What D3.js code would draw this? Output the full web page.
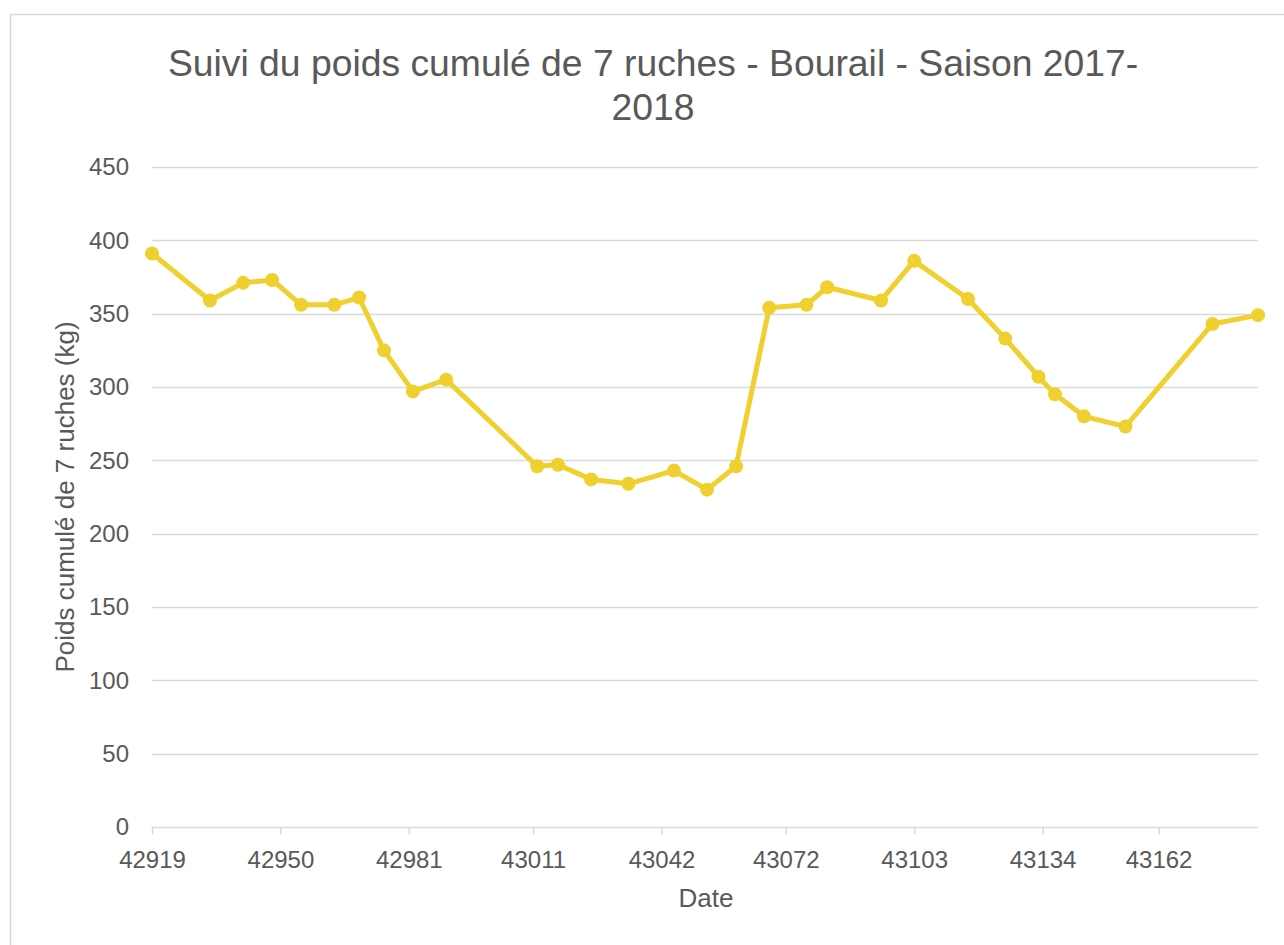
<!DOCTYPE html>
<html>
<head>
<meta charset="utf-8">
<script src="https://cdn.jsdelivr.net/npm/d3@7"></script>
<style>
  html, body { margin: 0; padding: 0; background: #ffffff; }
  svg { display: block; font-family: "Liberation Sans", Arial, Helvetica, sans-serif; }
</style>
</head>
<body>
<svg id="chart" width="1284" height="945"></svg>
<script>
// ---- Data ----
const titleLines = ["Suivi du poids cumulé de 7 ruches - Bourail - Saison 2017-", "2018"];
const xAxisTitle = "Date";
const yAxisTitle = "Poids cumulé de 7 ruches (kg)";
const dates = [42919, 42933, 42941, 42948, 42955, 42963, 42969, 42975, 42982, 42990,
               43012, 43017, 43025, 43034, 43045, 43053, 43060, 43068, 43077, 43082,
               43095, 43103, 43116, 43125, 43133, 43137, 43144, 43154, 43175, 43186];
const weights = [391, 359, 371, 373, 356, 356, 361, 325, 297, 305,
                 246, 247, 237, 234, 243, 230, 246, 354, 356, 368,
                 359, 386, 360, 333, 307, 295, 280, 273, 343, 349];
const xTickValues = [42919, 42950, 42981, 43011, 43042, 43072, 43103, 43134, 43162];
const yTickValues = [0, 50, 100, 150, 200, 250, 300, 350, 400, 450];

// ---- Layout ----
const svg = d3.select("#chart");
const plot = { left: 152, right: 1258, top: 167, bottom: 827 };
const textColor = "#595959";
const gridColor = "#d9d9d9";
const lineColor = "#efd02e";

// outer chart border
svg.append("rect")
  .attr("x", 10.5).attr("y", 14.5)
  .attr("width", 1300).attr("height", 960)
  .attr("fill", "#fff").attr("stroke", "#d9d9d9").attr("stroke-width", 1.5);

const x = d3.scaleLinear().domain([d3.min(dates), d3.max(dates)]).range([plot.left, plot.right]);
const y = d3.scaleLinear().domain([0, 450]).range([plot.bottom, plot.top]);

// gridlines
svg.append("g")
  .selectAll("line")
  .data(yTickValues.filter(v => v !== 0))
  .join("line")
  .attr("x1", plot.left).attr("x2", plot.right)
  .attr("y1", d => Math.round(y(d)) + 0.5).attr("y2", d => Math.round(y(d)) + 0.5)
  .attr("stroke", gridColor).attr("stroke-width", 1.5);

// y axis (labels only)
const yAxis = svg.append("g")
  .attr("transform", `translate(${plot.left},0)`)
  .call(d3.axisLeft(y).tickValues(yTickValues).tickSize(0).tickPadding(23).tickFormat(d3.format("d")));
yAxis.select(".domain").remove();
yAxis.selectAll("text")
  .attr("fill", textColor).attr("font-size", 24)
  .attr("font-family", "'Liberation Sans', Arial, sans-serif");

// x axis
const xAxis = svg.append("g")
  .attr("transform", `translate(0,${plot.bottom + 0.5})`)
  .call(d3.axisBottom(x).tickValues(xTickValues).tickSize(7).tickPadding(16).tickFormat(d3.format("d")));
xAxis.select(".domain").attr("stroke", gridColor).attr("stroke-width", 1.5)
  .attr("d", `M${plot.left},0H${plot.right}`);
xAxis.selectAll(".tick line").attr("stroke", gridColor).attr("stroke-width", 1.5);
xAxis.selectAll("text")
  .attr("fill", textColor).attr("font-size", 24)
  .attr("font-family", "'Liberation Sans', Arial, sans-serif");

// line
const line = d3.line().x((d, i) => x(dates[i])).y(d => y(d));
svg.append("path")
  .datum(weights)
  .attr("d", line)
  .attr("fill", "none")
  .attr("stroke", lineColor)
  .attr("stroke-width", 5)
  .attr("stroke-linejoin", "round");

// markers
svg.append("g")
  .selectAll("circle")
  .data(weights)
  .join("circle")
  .attr("cx", (d, i) => x(dates[i]))
  .attr("cy", d => y(d))
  .attr("r", 7)
  .attr("fill", lineColor);

// title
const title = svg.append("text")
  .attr("x", 653).attr("y", 76)
  .attr("text-anchor", "middle")
  .attr("fill", textColor)
  .attr("font-size", 37.3);
title.selectAll("tspan")
  .data(titleLines)
  .join("tspan")
  .attr("x", 653)
  .attr("dy", (d, i) => i === 0 ? 0 : 44)
  .text(d => d);

// axis titles
svg.append("text")
  .attr("x", 706).attr("y", 907)
  .attr("text-anchor", "middle")
  .attr("fill", textColor)
  .attr("font-size", 26)
  .text(xAxisTitle);

svg.append("text")
  .attr("transform", "translate(74,497) rotate(-90)")
  .attr("text-anchor", "middle")
  .attr("fill", textColor)
  .attr("font-size", 26)
  .text(yAxisTitle);
</script>
</body>
</html>
